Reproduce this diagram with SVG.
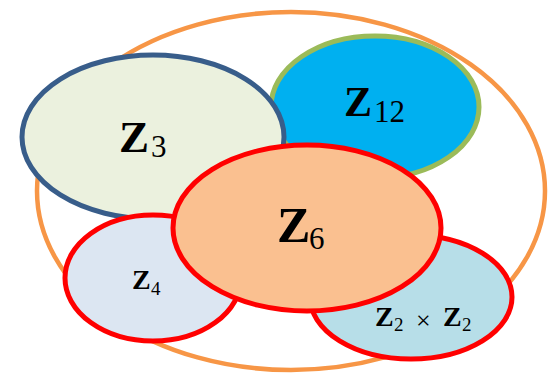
<svg xmlns="http://www.w3.org/2000/svg" width="554" height="374" viewBox="0 0 554 374">
<style>
.red{stroke:#FF0000;stroke-width:5}
.z{font-family:"Liberation Serif","DejaVu Serif",serif;font-weight:bold;fill:#000}
.s{font-family:"Liberation Serif","DejaVu Serif",serif;font-weight:normal;fill:#000}
</style>
<rect width="554" height="374" fill="#fff"/>
<g id="outer"><ellipse cx="291" cy="191" rx="254" ry="179" fill="none" stroke="#F79646" stroke-width="4.5"/></g>
<g id="z12"><ellipse cx="375" cy="107" rx="104" ry="71" fill="#00B0F0" stroke="#9BBB59" stroke-width="5"/>
<text x="344" y="116" class="z" font-size="42">Z</text><text x="374" y="122" class="s" font-size="31">12</text></g>
<g id="z3"><ellipse cx="153" cy="137" rx="131" ry="82" fill="#EBF1DE" stroke="#385D8A" stroke-width="5"/>
<text x="119" y="152" class="z" font-size="45">Z</text><text x="151" y="157" class="s" font-size="31">3</text></g>
<g id="z4"><ellipse cx="153" cy="278" rx="88" ry="63" fill="#DCE6F2" class="red"/>
<text x="132" y="289" class="z" font-size="28">Z</text><text x="151" y="295" class="s" font-size="19">4</text></g>
<g id="z2xz2"><ellipse cx="411" cy="297" rx="101" ry="62" fill="#B7DEE8" class="red"/>
<text x="375" y="326" class="z" font-size="28">Z</text><text x="394" y="331" class="s" font-size="19">2</text><text x="416" y="329" class="s" font-size="26">×</text><text x="443" y="326" class="z" font-size="28">Z</text><text x="462" y="331" class="s" font-size="19">2</text></g>
<g id="z6"><ellipse cx="307" cy="228" rx="134" ry="83" fill="#FAC090" class="red"/>
<text x="277" y="242" class="z" font-size="50">Z</text><text x="309" y="249" class="s" font-size="31">6</text></g>
<g id="connectors"></g>
</svg>
